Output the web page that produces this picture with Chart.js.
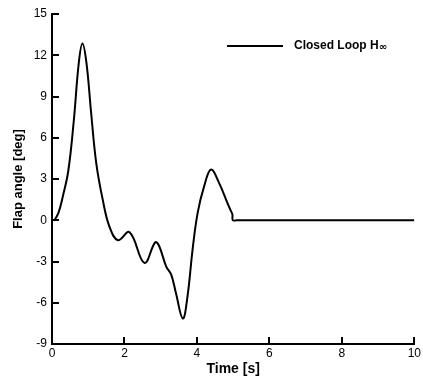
<!DOCTYPE html>
<html lang="en">
<head>
    <meta charset="UTF-8">
    <title>Flap angle</title>
    <script src="https://cdn.jsdelivr.net/npm/chart.js@4.4.0/dist/chart.umd.min.js"></script>
    <style>
        body { margin: 0; background: #fff; }
        .wrap { width: 423px; height: 381px; }
    </style>
</head>
<body>
    <div class="wrap"><canvas id="flapChart" width="423" height="381"></canvas></div>

    <script>
        // values
        const timeS = [0.07, 0.18, 0.30, 0.45, 0.60, 0.74, 0.84, 0.95, 1.08, 1.22, 1.40, 1.59, 1.82,
                       2.14, 2.55, 2.85, 2.96, 3.15, 3.29, 3.42, 3.61, 3.74, 3.88, 4.02, 4.20, 4.39,
                       4.61, 4.84, 4.94, 4.98, 4.99, 5.1, 10];
        const flapDeg = [0, 0.55, 1.75, 3.6, 7.2, 11.46, 12.85, 11.46, 7.82, 4.18, 1.5, -0.5, -1.45,
                         -0.87, -3.1, -1.6, -1.89, -3.35, -3.95, -5.29, -7.15, -5.53, -2.13, 0.54, 2.48, 3.69,
                         2.72, 1.27, 0.66, 0.41, 0, 0, 0];
        const xTicks = [0, 2, 4, 6, 8, 10];
        const yTicks = [-9, -6, -3, 0, 3, 6, 9, 12, 15];
        const legendLabel = 'Closed Loop H';

        // tick marks point into the plot, so draw them here
        const innerTicks = {
            id: 'innerTicks',
            afterDraw(chart) {
                const ctx = chart.ctx;
                const area = chart.chartArea;
                const xs = chart.scales.x, ys = chart.scales.y;
                ctx.save();
                ctx.strokeStyle = '#000';
                ctx.lineWidth = 2;
                ctx.beginPath();
                xTicks.forEach(v => {
                    const px = Math.round(xs.getPixelForValue(v));
                    ctx.moveTo(px, area.bottom);
                    ctx.lineTo(px, area.bottom - 7);
                });
                yTicks.forEach(v => {
                    const py = Math.round(ys.getPixelForValue(v));
                    ctx.moveTo(area.left, py);
                    ctx.lineTo(area.left + 7, py);
                });
                ctx.stroke();

                // legend inside the plot
                const ly = 46;
                ctx.beginPath();
                ctx.moveTo(227, ly);
                ctx.lineTo(283, ly);
                ctx.stroke();
                ctx.fillStyle = '#000';
                ctx.textBaseline = 'middle';
                ctx.font = 'bold 12px "Liberation Sans", Arial, sans-serif';
                ctx.fillText(legendLabel, 294, ly);
                const w = ctx.measureText(legendLabel).width;
                ctx.font = 'bold 10px "DejaVu Sans", sans-serif';
                ctx.fillText('\u221E', 294 + w, ly + 1);
                ctx.restore();
            }
        };

        const ctx = document.getElementById('flapChart').getContext('2d');
        new Chart(ctx, {
            type: 'line',
            data: {
                datasets: [{
                    label: legendLabel + '\u221E',
                    data: timeS.map((t, i) => ({ x: t, y: flapDeg[i] })),
                    borderColor: '#000',
                    borderWidth: 2,
                    pointRadius: 0,
                    fill: false,
                    tension: 0.4
                }]
            },
            options: {
                responsive: false,
                animation: false,
                layout: { padding: { left: 0, top: 14, right: 7, bottom: 0 } },
                plugins: {
                    legend: { display: false },
                    tooltip: { enabled: false }
                },
                scales: {
                    x: {
                        type: 'linear',
                        min: 0,
                        max: 10,
                        afterFit(scale) { scale.height = 37; },
                        afterBuildTicks(scale) { scale.ticks = xTicks.map(v => ({ value: v })); },
                        grid: { display: false, drawTicks: false },
                        border: { display: true, color: '#000', width: 2 },
                        ticks: {
                            color: '#000',
                            padding: 2,
                            maxRotation: 0,
                            font: { family: '"Liberation Sans", Arial, sans-serif', size: 12 }
                        },
                        title: {
                            display: true,
                            text: 'Time [s]',
                            color: '#000',
                            padding: { top: 0, bottom: 3 },
                            font: { family: '"Liberation Sans", Arial, sans-serif', size: 14, weight: 'bold' }
                        }
                    },
                    y: {
                        min: -9,
                        max: 15,
                        afterFit(scale) { scale.width = 52; },
                        afterBuildTicks(scale) { scale.ticks = yTicks.map(v => ({ value: v })); },
                        grid: { display: false, drawTicks: false },
                        border: { display: true, color: '#000', width: 2 },
                        ticks: {
                            color: '#000',
                            padding: 5,
                            font: { family: '"Liberation Sans", Arial, sans-serif', size: 12 }
                        },
                        title: {
                            display: true,
                            text: 'Flap angle [deg]',
                            color: '#000',
                            padding: { top: 11, bottom: 0 },
                            font: { family: '"Liberation Sans", Arial, sans-serif', size: 13, weight: 'bold' }
                        }
                    }
                }
            },
            plugins: [innerTicks]
        });
    </script>
</body>
</html>
